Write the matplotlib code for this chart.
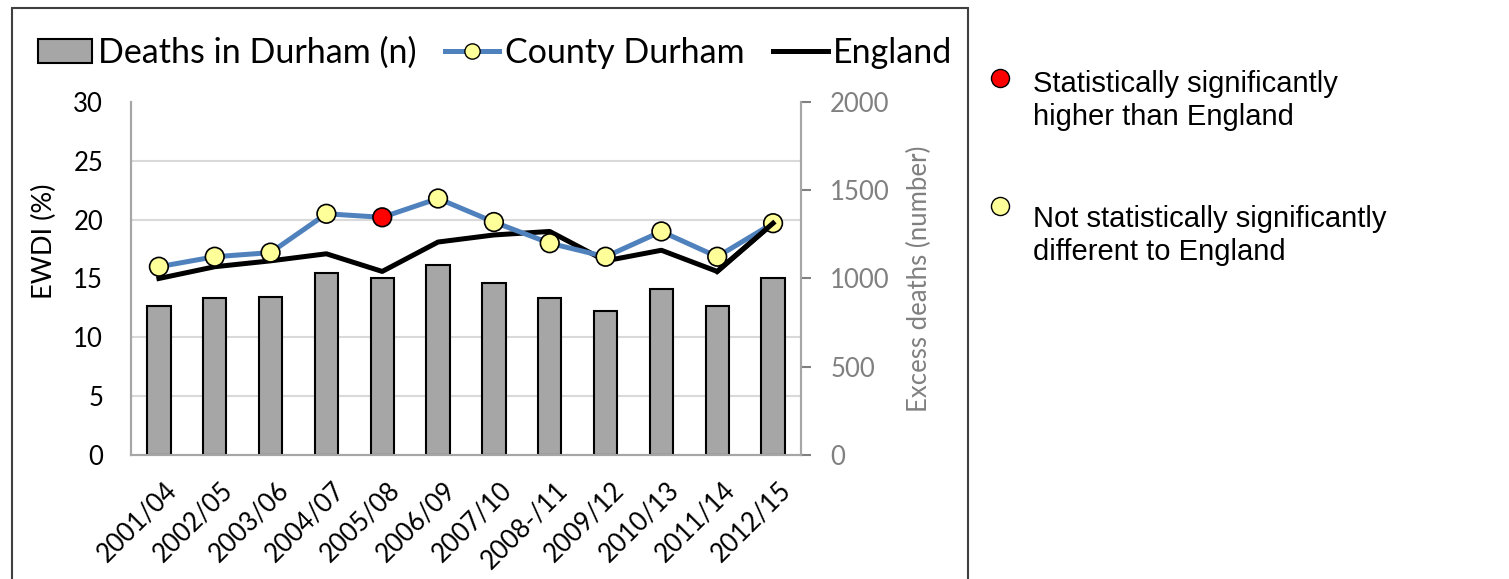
#   Excess winter deaths index, County Durham vs England
#   Bars = excess deaths (right axis), lines = EWDI % (left axis)

import numpy as np
import matplotlib
matplotlib.use("Agg")
import matplotlib.pyplot as plt
import matplotlib.transforms as mtransforms
from matplotlib.lines import Line2D
from matplotlib.patches import Rectangle

PERIODS = ["2001/04", "2002/05", "2003/06", "2004/07", "2005/08", "2006/09",
           "2007/10", "2008-/11", "2009/12", "2010/13", "2011/14", "2012/15"]
DEATHS_DURHAM = [845, 888, 896, 1032, 1000, 1076, 977, 888, 818, 941, 847, 1002]
EWDI_DURHAM = [16.0, 16.85, 17.2, 20.5, 20.2, 21.8, 19.8, 18.0, 16.85, 19.0, 16.85, 19.7]
EWDI_ENGLAND = [15.0, 16.0, 16.5, 17.1, 15.6, 18.1, 18.7, 19.0, 16.5, 17.4, 15.6, 19.7]
# True = significantly higher than England
SIG_HIGHER = [False, False, False, False, True, False,
              False, False, False, False, False, False]

FONT = ["Lato", "DejaVu Sans"]
GREY = "#808080"
BLUE = "#4F81BD"
YELLOW = "#FFFF99"


def main():
    plt.rcParams['font.family'] = FONT

    fig = plt.figure(figsize=(15.09, 5.79), dpi=100)
    ax = fig.add_axes([0.0868, 0.2142, 0.4440, 0.6096])
    ax2 = ax.twinx()

    x = np.arange(len(PERIODS))

    # bars on the right-hand axis, with the grid drawn there so bars sit above it
    bars = ax2.bar(x, DEATHS_DURHAM, width=0.42, color="#A6A6A6",
                   edgecolor="black", linewidth=1.5, zorder=2,
                   label="Deaths in Durham (n)")
    ax2.set_ylim(0, 2000)
    ax2.set_yticks([0, 500, 1000, 1500, 2000])
    ax2.set_yticks(np.linspace(0, 2000, 7), minor=True)
    ax2.grid(which="minor", axis="y", color="#D9D9D9", linewidth=1.5, zorder=0)
    ax2.set_axisbelow(True)
    ax2.tick_params(axis="y", which="major", colors=GREY, length=7, width=1.5,
                    labelsize=18.5, pad=14)
    ax2.tick_params(axis="y", which="minor", length=0)
    ax2.set_ylabel("Excess deaths (number)", color=GREY, fontsize=18.5, labelpad=12)

    # lines on the left-hand axis, in front
    ax.set_zorder(ax2.get_zorder() + 1)
    ax.patch.set_visible(False)
    eng, = ax.plot(x, EWDI_ENGLAND, color="black", linewidth=3.6, label="England",
                   zorder=3)
    ax.plot(x, EWDI_DURHAM, color=BLUE, linewidth=3.6, zorder=4)
    face = ["red" if s else YELLOW for s in SIG_HIGHER]
    ax.scatter(x, EWDI_DURHAM, s=180, c=face, edgecolors="black", linewidths=1.2,
               zorder=5)
    # England line passes over the last point
    ax.plot(x[-2:], EWDI_ENGLAND[-2:], color="black", linewidth=3.6, zorder=6)

    ax.set_xlim(-0.5, len(PERIODS) - 0.5)
    ax.set_ylim(0, 30)
    ax.set_yticks(np.arange(0, 31, 5))
    ax.set_xticks(x)
    ax.set_xticklabels(PERIODS, rotation=45, ha="right", rotation_mode="anchor")
    ax.tick_params(axis="x", length=0, labelsize=18.5, pad=16)
    ax.tick_params(axis="y", length=0, labelsize=18.5, pad=20)
    ax.set_ylabel("EWDI (%)", fontsize=19.5)
    ax.yaxis.set_label_coords(-0.110, 0.606)
    shift = mtransforms.ScaledTranslation(5 / 100, 0, fig.dpi_scale_trans)
    for lbl in ax.get_xticklabels():
        lbl.set_transform(lbl.get_transform() + shift)

    for a in (ax, ax2):
        a.spines["top"].set_visible(False)
        for s in ("left", "right", "bottom"):
            a.spines[s].set_color("#A6A6A6")
            a.spines[s].set_linewidth(1.5)

    durham_key = Line2D([], [], color=BLUE, linewidth=3.6, marker="o",
                        markersize=11, markerfacecolor=YELLOW,
                        markeredgecolor="black", label="County Durham")
    fig.legend(handles=[bars, durham_key, eng], loc="center",
               bbox_to_anchor=(0.328, 0.909), ncol=3, frameon=False,
               fontsize=24.5, handlelength=1.6, handletextpad=0.15,
               columnspacing=0.85)

    # significance key on the right
    keys = [("red", "Statistically significantly\nhigher than England", 0.8653, 0.8791),
            (YELLOW, "Not statistically significantly\ndifferent to England", 0.6442, 0.646)]
    for col, txt, ym, yt in keys:
        fig.add_artist(Line2D([0.6628], [ym], transform=fig.transFigure,
                              marker="o", markersize=13, markerfacecolor=col,
                              markeredgecolor="black", linestyle="none"))
        fig.text(0.6845, yt, txt, fontsize=21, va="top",
                 family="Liberation Sans", linespacing=1.22,
                 transform=fig.transFigure)

    # chart border
    fig.add_artist(Rectangle((12 / 1509, -0.05), 956 / 1509, 1 - 8 / 579 + 0.05,
                             transform=fig.transFigure, fill=False,
                             edgecolor="#404040", linewidth=1.5))

    fig.savefig("out.png", dpi=100)


if (__name__ == "__main__"):
    main()
